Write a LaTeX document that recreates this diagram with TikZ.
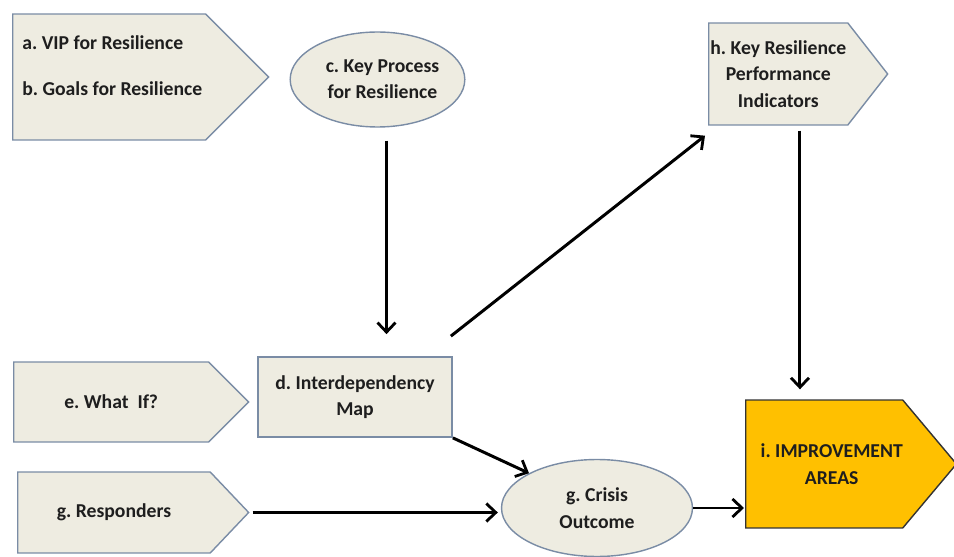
\documentclass[tikz,border=0pt]{standalone}
\usepackage{fontspec}
\setmainfont{Carlito}
\usetikzlibrary{shapes.geometric,shapes.symbols,arrows.meta}
\definecolor{paper}{HTML}{EEECE1}
\definecolor{rim}{HTML}{7A8CA5}
\definecolor{gold}{HTML}{FFC000}
\definecolor{ink}{HTML}{1E1E1E}
\frenchspacing
\tikzset{
	lbl/.style={text=ink, font=\bfseries\fontsize{11.2}{15}\selectfont},
	tag/.style={signal, signal to=east, anchor=west, draw=rim, fill=paper, line width=0.8pt, lbl, align=center, inner sep=0pt},
	bubble/.style={ellipse, draw=rim, fill=paper, line width=0.8pt, lbl, align=center, inner sep=0pt},
	arr/.style={line width=1.7pt, -{Straight Barb[length=1.9mm, width=3.6mm, line width=1.6pt]}}
}

\begin{document}
\begin{tikzpicture}[x=0.02cm, y=-0.02cm]
		%%%%% START %%%%%
		\useasboundingbox (0, 0) rectangle (954, 557);
		
		\node[tag, minimum width=5.12cm, minimum height=2.52cm, signal pointer angle=90] (vip) at (12, 77) {};
		\node[lbl, anchor=west, inner sep=0pt] (viptext) at (22, 43) {a. VIP for Resilience};
		\node[lbl, anchor=west, inner sep=0pt] (goaltext) at (22, 89) {b. Goals for Resilience};
		
		\node[bubble, minimum width=3.42cm, minimum height=1.9cm] (keyproc) at (377.5, 79.5) {\hspace*{0.2cm}c. Key Process\\\hspace*{0.2cm}for Resilience};
		
		\node[tag, minimum width=3.58cm, minimum height=2.04cm, signal pointer angle=104] (kpi) at (708, 74) {h. Key Resilience\\Performance\\Indicators};
		
		\node[tag, minimum width=4.7cm, minimum height=1.6cm, signal pointer angle=90] (whatif) at (13, 402) {e. What\ \ If?};
		\node[draw=rim, fill=paper, line width=1pt, lbl, align=center, minimum width=3.88cm, minimum height=1.6cm] (map) at (355, 397) {d. Interdependency\\Map};
		
		\node[tag, minimum width=4.62cm, minimum height=1.62cm, signal pointer angle=93] (resp) at (17, 512.5) {g. Responders};
		\node[bubble, minimum width=3.82cm, minimum height=1.94cm] (crisis) at (597, 508) {g. Crisis\\Outcome};
		
		\node[tag, draw=black!80, fill=gold, minimum width=4.18cm, minimum height=2.56cm, signal pointer angle=100] (improve) at (745, 464) {\hspace*{0.3cm}i. IMPROVEMENT\\\hspace*{0.3cm}AREAS};
		
		\coordinate (procfoot) at ([xshift=0.18cm]keyproc.south);
		\draw[arr, shorten <=0.26cm, shorten >=0.44cm] (procfoot) -- (procfoot |- map.north);
		\draw[arr] ([shift={(-0.04cm,0.4cm)}]map.north east) -- ([shift={(-0.06cm,-0.2cm)}]kpi.south west);
		\draw[arr, shorten <=0.1cm, shorten >=0.2cm] ([xshift=1.84cm]kpi.south west) -- ([xshift=1.84cm]kpi.south west |- improve.north);
		\draw[arr] (map.south east) -- (crisis.north west);
		\draw[arr, shorten <=0.06cm, shorten >=0.06cm] (resp.east) -- (resp.east -| crisis.west);
		\draw[arr, shorten >=0.02cm] (crisis.east) -- (crisis.east -| improve.west);
		
		%%%%% END %%%%%
	\end{tikzpicture}
\end{document}
